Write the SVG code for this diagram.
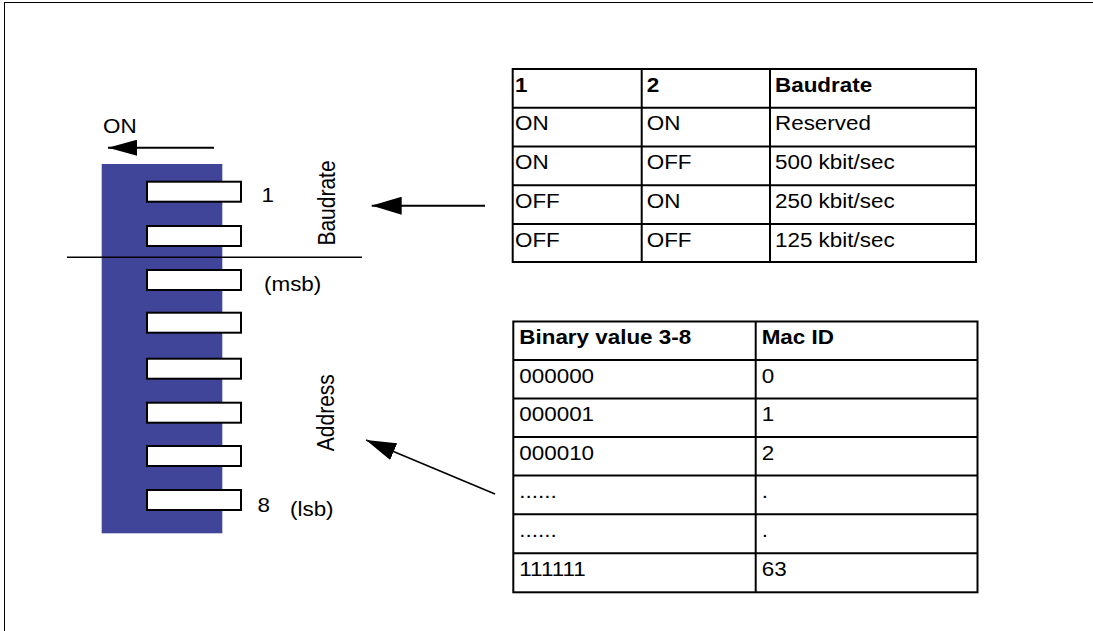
<svg xmlns="http://www.w3.org/2000/svg" width="1093" height="631" viewBox="0 0 1093 631">
<style>
.t{font-family:"Liberation Sans",Arial,sans-serif;font-size:19.5px;fill:#000}
.b{font-weight:bold}
.r{font-family:"Liberation Sans",Arial,sans-serif;font-size:21px;fill:#000;text-anchor:middle}
.sw{fill:#fff;stroke:#000;stroke-width:2}
.grid{fill:none;stroke:#000;stroke-width:2}
.ln{stroke:#000;fill:none}
</style>
<defs>
<marker id="ah" markerUnits="userSpaceOnUse" viewBox="0 -9 30 18" refX="30" refY="0" markerWidth="30" markerHeight="18" orient="auto">
<path d="M0,-9 L30,0 L0,9 z" fill="#000"/>
</marker>
<marker id="ah2" markerUnits="userSpaceOnUse" viewBox="0 -8 29 16" refX="29" refY="0" markerWidth="29" markerHeight="16" orient="auto">
<path d="M0,-8 L29,0 L0,8 z" fill="#000"/>
</marker>
</defs>
<rect width="1093" height="631" fill="#fff"/>
<g id="frame">
<line class="ln" x1="4.5" y1="2" x2="4.5" y2="631" stroke-width="1"/>
<line class="ln" x1="4" y1="2.5" x2="1093" y2="2.5" stroke-width="1"/>
</g>
<g id="dip-switch">
<rect x="101.7" y="164" width="120.6" height="369.3" fill="#414599"/>
<rect class="sw" x="147" y="181.7" width="94" height="20"/>
<rect class="sw" x="147" y="226" width="94" height="20"/>
<rect class="sw" x="147" y="270" width="94" height="20"/>
<rect class="sw" x="147" y="312.7" width="94" height="20"/>
<rect class="sw" x="147" y="358.7" width="94" height="20"/>
<rect class="sw" x="147" y="402.7" width="94" height="20"/>
<rect class="sw" x="147" y="446" width="94" height="20"/>
<rect class="sw" x="147" y="490" width="94" height="20"/>
<line class="ln" x1="67" y1="257.3" x2="362" y2="257.3" stroke-width="1.5"/>
<text class="t" transform="translate(103,133) scale(1.15,1)">ON</text>
<text class="t" transform="translate(261.5,201.7) scale(1.15,1)">1</text>
<text class="t" transform="translate(264,291) scale(1.15,1)">(msb)</text>
<text class="t" transform="translate(257.5,511.7) scale(1.15,1)">8</text>
<text class="t" transform="translate(290,515.5) scale(1.15,1)">(lsb)</text>
<text class="r" transform="translate(335,203) rotate(-90) scale(1,1.1)">Baudrate</text>
<text class="r" transform="translate(334,412.7) rotate(-90) scale(1,1.1)">Address</text>
</g>
<g id="connectors">
<line class="ln" x1="214" y1="147.7" x2="108" y2="147.7" stroke-width="2" marker-end="url(#ah2)"/>
<line class="ln" x1="485" y1="205.7" x2="371.7" y2="205.7" stroke-width="2" marker-end="url(#ah)"/>
<line class="ln" x1="495" y1="494" x2="366" y2="440" stroke-width="1.6" marker-end="url(#ah)"/>
</g>
<g id="baudrate-table">
<rect class="grid" x="512.7" y="69" width="463.3" height="193"/>
<line class="grid" x1="641.7" y1="69" x2="641.7" y2="262"/>
<line class="grid" x1="770" y1="69" x2="770" y2="262"/>
<line class="grid" x1="512.7" y1="107.7" x2="976" y2="107.7"/>
<line class="grid" x1="512.7" y1="146.5" x2="976" y2="146.5"/>
<line class="grid" x1="512.7" y1="185.3" x2="976" y2="185.3"/>
<line class="grid" x1="512.7" y1="224" x2="976" y2="224"/>
<text class="t b" transform="translate(515,91.5) scale(1.15,1)">1</text>
<text class="t b" transform="translate(646.7,91.5) scale(1.15,1)">2</text>
<text class="t b" transform="translate(775,91.5) scale(1.15,1)">Baudrate</text>
<text class="t" transform="translate(515,130.2) scale(1.15,1)">ON</text>
<text class="t" transform="translate(646.7,130.2) scale(1.15,1)">ON</text>
<text class="t" transform="translate(775,130.2) scale(1.15,1)">Reserved</text>
<text class="t" transform="translate(515,169) scale(1.15,1)">ON</text>
<text class="t" transform="translate(646.7,169) scale(1.15,1)">OFF</text>
<text class="t" transform="translate(775,169) scale(1.15,1)">500 kbit/sec</text>
<text class="t" transform="translate(515,207.8) scale(1.15,1)">OFF</text>
<text class="t" transform="translate(646.7,207.8) scale(1.15,1)">ON</text>
<text class="t" transform="translate(775,207.8) scale(1.15,1)">250 kbit/sec</text>
<text class="t" transform="translate(515,246.5) scale(1.15,1)">OFF</text>
<text class="t" transform="translate(646.7,246.5) scale(1.15,1)">OFF</text>
<text class="t" transform="translate(775,246.5) scale(1.15,1)">125 kbit/sec</text>
</g>
<g id="address-table">
<rect class="grid" x="513.3" y="321.5" width="464.2" height="270.8"/>
<line class="grid" x1="755.7" y1="321.5" x2="755.7" y2="592.3"/>
<line class="grid" x1="513.3" y1="360" x2="977.5" y2="360"/>
<line class="grid" x1="513.3" y1="398.5" x2="977.5" y2="398.5"/>
<line class="grid" x1="513.3" y1="437" x2="977.5" y2="437"/>
<line class="grid" x1="513.3" y1="475.5" x2="977.5" y2="475.5"/>
<line class="grid" x1="513.3" y1="514.3" x2="977.5" y2="514.3"/>
<line class="grid" x1="513.3" y1="553.3" x2="977.5" y2="553.3"/>
<text class="t b" transform="translate(519.3,343.5) scale(1.15,1)">Binary value 3-8</text>
<text class="t b" transform="translate(761.7,343.5) scale(1.15,1)">Mac ID</text>
<text class="t" transform="translate(519.3,382.5) scale(1.15,1)">000000</text>
<text class="t" transform="translate(761.7,382.5) scale(1.15,1)">0</text>
<text class="t" transform="translate(519.3,421) scale(1.15,1)">000001</text>
<text class="t" transform="translate(761.7,421) scale(1.15,1)">1</text>
<text class="t" transform="translate(519.3,459.5) scale(1.15,1)">000010</text>
<text class="t" transform="translate(761.7,459.5) scale(1.15,1)">2</text>
<text class="t" transform="translate(519.3,498) scale(1.15,1)">......</text>
<text class="t" transform="translate(761.7,498) scale(1.15,1)">.</text>
<text class="t" transform="translate(519.3,536.8) scale(1.15,1)">......</text>
<text class="t" transform="translate(761.7,536.8) scale(1.15,1)">.</text>
<text class="t" transform="translate(519.3,575.5) scale(1.15,1)">111111</text>
<text class="t" transform="translate(761.7,575.5) scale(1.15,1)">63</text>
</g>
</svg>
